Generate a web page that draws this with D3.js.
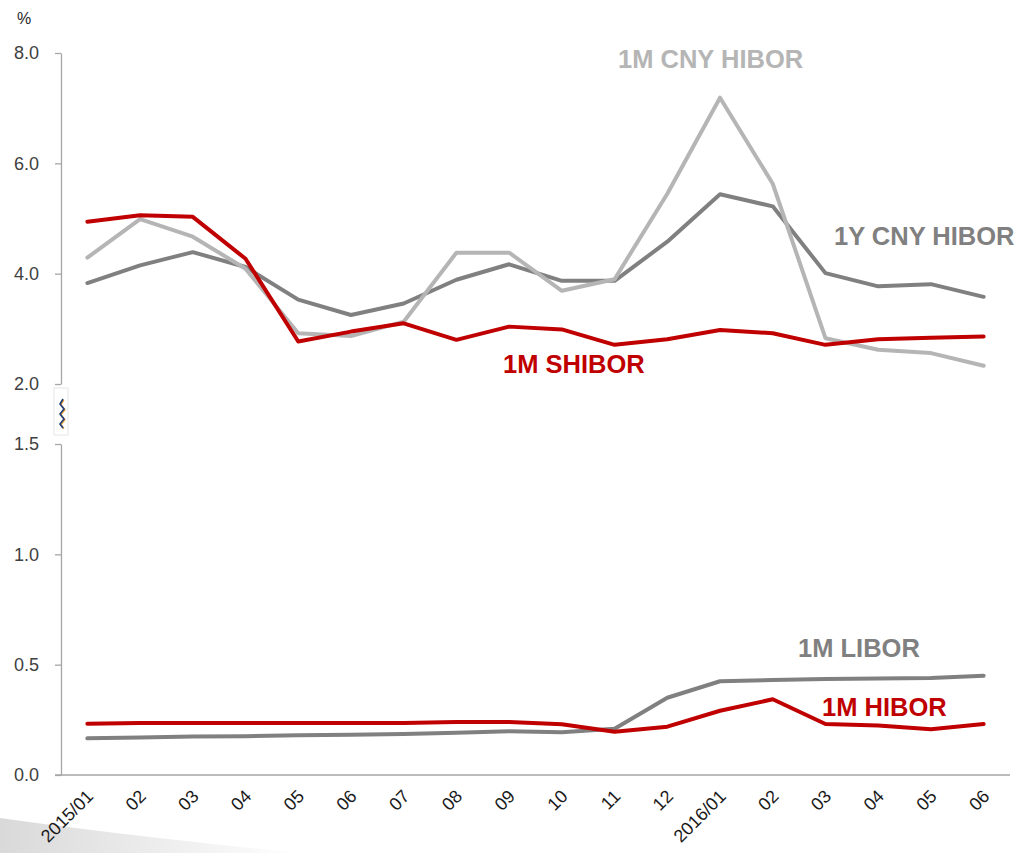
<!DOCTYPE html>
<html>
<head>
<meta charset="utf-8">
<script src="https://cdn.jsdelivr.net/npm/d3@7"></script>
<style>
  html, body { margin: 0; padding: 0; background: #ffffff; }
  svg { display: block; }
</style>
</head>
<body>
<svg id="chart" width="1028" height="853"></svg>
<script>
// ---- data ----
const categories = ["2015/01","02","03","04","05","06","07","08","09","10","11","12","2016/01","02 ","03 ","04 ","05 ","06 "];
const tickLabels = ["2015/01","02","03","04","05","06","07","08","09","10","11","12","2016/01","02","03","04","05","06"];
const shibor1M    = [4.94,5.06,5.03,4.27,2.77,2.95,3.10,2.80,3.04,2.99,2.71,2.81,2.98,2.92,2.71,2.81,2.84,2.86];
const cnyHibor1M  = [4.29,4.99,4.67,4.09,2.92,2.87,3.13,4.38,4.38,3.69,3.90,5.45,7.19,5.63,2.83,2.62,2.56,2.33];
const cnyHibor1Y  = [3.83,4.15,4.39,4.12,3.53,3.25,3.46,3.89,4.17,3.87,3.87,4.58,5.44,5.22,4.01,3.77,3.81,3.58];
const hibor1M     = [0.232,0.236,0.236,0.236,0.236,0.236,0.236,0.240,0.240,0.230,0.196,0.219,0.291,0.343,0.231,0.224,0.207,0.231];
const libor1M     = [0.166,0.170,0.174,0.176,0.180,0.182,0.186,0.192,0.198,0.194,0.210,0.350,0.425,0.430,0.435,0.437,0.440,0.450];
const topTicks    = [2,4,6,8];
const bottomTicks = [0,0.5,1,1.5];

// ---- layout ----
const svg = d3.select("#chart");
const axisX = 61, plotRight = 1010;
const x = d3.scalePoint().domain(categories).range([axisX, plotRight]).padding(0.5);
const yTop = d3.scaleLinear().domain([2, 8]).range([384, 53]);
const yBot = d3.scaleLinear().domain([0, 1.5]).range([775, 444]);

// soft page-curl shadow at bottom left
const defs = svg.append("defs");
const grad = defs.append("linearGradient").attr("id","shade").attr("x1","0").attr("y1","0").attr("x2","1").attr("y2","0");
grad.append("stop").attr("offset","0").attr("stop-color","#d9d9d9");
grad.append("stop").attr("offset","1").attr("stop-color","#ffffff");
svg.append("path")
  .attr("d","M0,818 Q120,835 300,853 L0,853 Z")
  .attr("fill","url(#shade)");

const fontAxis = "'Liberation Sans', Arial, sans-serif";

function styleAxis(g) {
  g.selectAll("path.domain").attr("stroke","#a6a6a6").attr("stroke-width",1.3);
  g.selectAll(".tick line").attr("stroke","#a6a6a6").attr("stroke-width",1.3);
  g.selectAll(".tick text").attr("fill","#404040").attr("font-size","18px").attr("font-family",fontAxis);
}

// y axes
const gTop = svg.append("g").attr("transform",`translate(${axisX},0)`)
  .call(d3.axisLeft(yTop).tickValues(topTicks).tickFormat(d3.format(".1f")).tickSizeInner(6).tickSizeOuter(0).tickPadding(16));
styleAxis(gTop);
const gBot = svg.append("g").attr("transform",`translate(${axisX},0)`)
  .call(d3.axisLeft(yBot).tickValues(bottomTicks).tickFormat(d3.format(".1f")).tickSizeInner(6).tickSizeOuter(0).tickPadding(16));
styleAxis(gBot);

// x axis baseline
svg.append("line").attr("x1",55).attr("x2",plotRight).attr("y1",yBot(0)).attr("y2",yBot(0))
  .attr("stroke","#a6a6a6").attr("stroke-width",1.3);

// x tick labels
const gx = svg.append("g").attr("transform",`translate(0,${yBot(0)})`)
  .call(d3.axisBottom(x).tickSize(0).tickFormat((d,i)=>tickLabels[i]));
gx.select("path.domain").remove();
gx.selectAll(".tick text")
  .attr("font-family",fontAxis).attr("font-size","18px").attr("fill","#1a1a1a")
  .attr("text-anchor","end")
  .attr("transform","translate(2,18) rotate(-45)")
  .attr("dy","0.35em").attr("y",0).attr("x",0);

// "%" unit
svg.append("text").attr("x",24).attr("y",24).attr("text-anchor","middle")
  .attr("font-family",fontAxis).attr("font-size","16px").attr("fill","#262626").text("%");

// axis break symbol
svg.append("rect").attr("x",54).attr("y",388).attr("width",14).attr("height",47)
  .attr("fill","#ffffff").attr("stroke","#e6e6e6").attr("stroke-width",1);
const zig = "M63,399 L60,404 L64,409 L60,414 L64,419 L60,424 L63,428";
svg.append("path").attr("d",zig).attr("fill","none").attr("stroke","#f0a030").attr("stroke-width",1.6)
  .attr("transform","translate(0.8,0.8)");
svg.append("path").attr("d",zig).attr("fill","none").attr("stroke","#1f3f7a").attr("stroke-width",1.6);

// lines
const lineTop = d3.line().x((d,i)=>x(categories[i])).y(d=>yTop(d));
const lineBot = d3.line().x((d,i)=>x(categories[i])).y(d=>yBot(d));
const series = [
  {data: cnyHibor1Y, gen: lineTop, color: "#808080"},
  {data: cnyHibor1M, gen: lineTop, color: "#b5b5b5"},
  {data: shibor1M,   gen: lineTop, color: "#c00000"},
  {data: libor1M,    gen: lineBot, color: "#808080"},
  {data: hibor1M,    gen: lineBot, color: "#c00000"}
];
series.forEach(s => {
  svg.append("path").datum(s.data).attr("d", s.gen)
    .attr("fill","none").attr("stroke", s.color).attr("stroke-width",4)
    .attr("stroke-linejoin","round").attr("stroke-linecap","round");
});

// series labels
const labels = [
  {text:"1M CNY HIBOR", x:618, y:68,  color:"#b5b5b5"},
  {text:"1Y CNY HIBOR", x:834, y:245, color:"#808080"},
  {text:"1M SHIBOR",    x:503, y:373, color:"#c00000"},
  {text:"1M LIBOR",     x:798, y:657, color:"#808080"},
  {text:"1M HIBOR",     x:822, y:716, color:"#c00000"}
];
svg.selectAll("text.series").data(labels).enter().append("text")
  .attr("class","series")
  .attr("x",d=>d.x).attr("y",d=>d.y)
  .attr("font-family",fontAxis).attr("font-weight","bold").attr("font-size","25.5px")
  .attr("fill",d=>d.color).text(d=>d.text);
</script>
</body>
</html>
